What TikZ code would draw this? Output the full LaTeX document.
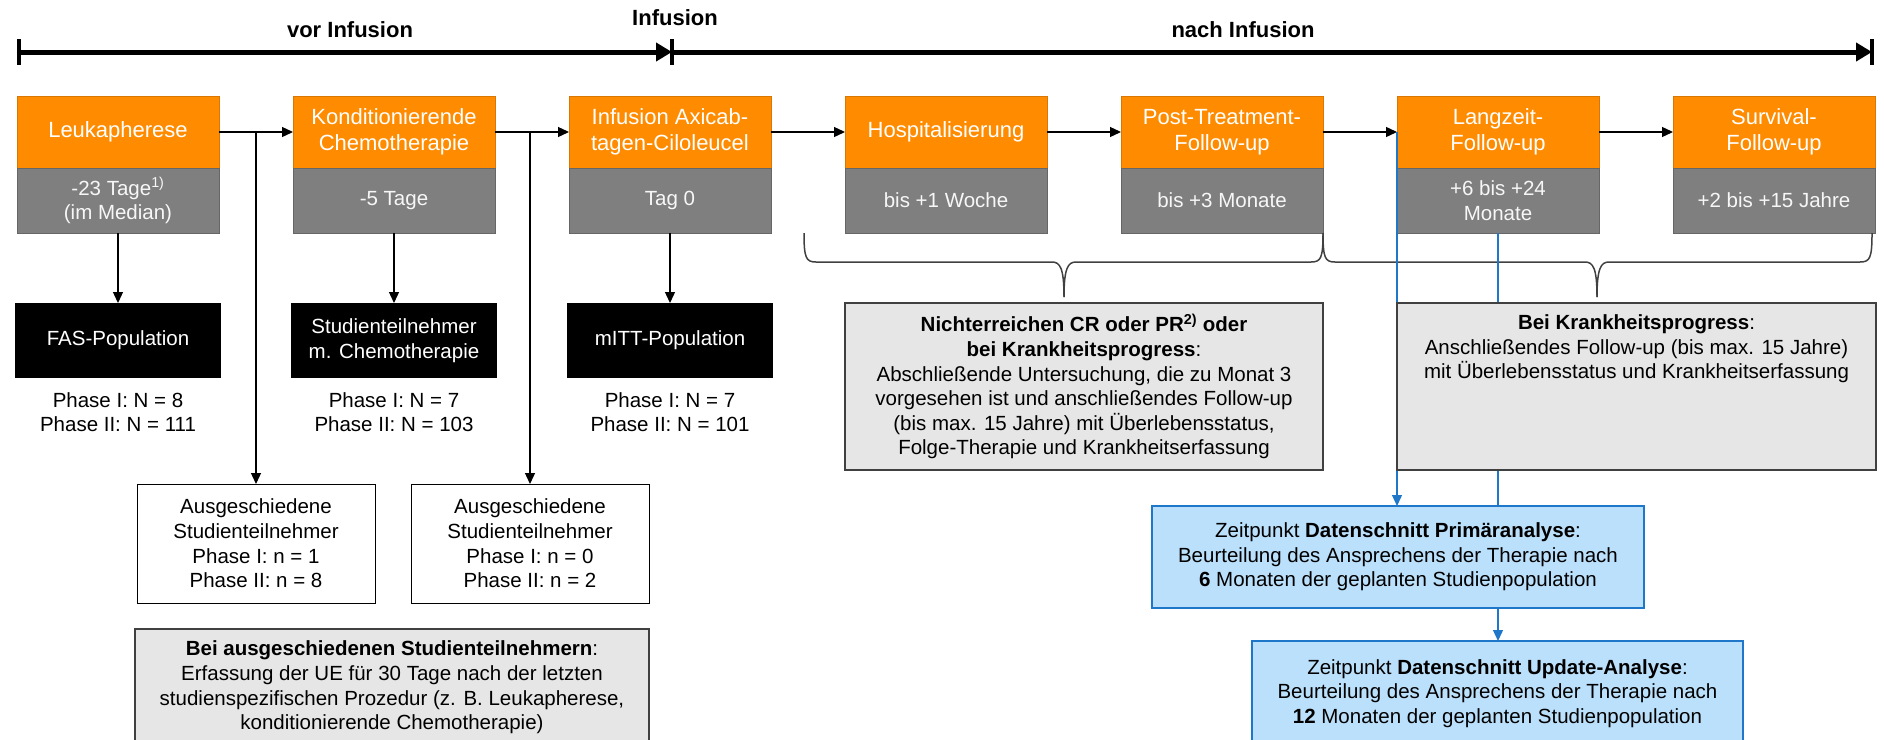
\documentclass[tikz,border=0pt]{standalone}
\usepackage{fontspec}
\setmainfont{Liberation Sans}
\usetikzlibrary{arrows.meta}
\definecolor{orng}{RGB}{255,140,0}
\definecolor{gry}{RGB}{127,127,127}
\definecolor{lgry}{RGB}{230,230,230}
\definecolor{lblue}{RGB}{187,224,251}
\definecolor{bcol}{RGB}{31,119,201}
\definecolor{dgry}{RGB}{64,64,64}
\begin{document}
\begin{tikzpicture}[x=1pt,y=-1pt,
 every node/.style={inner sep=0pt, outer sep=0pt, align=center, font=\fontsize{20.5}{24.6}\selectfont},
 obox/.style={anchor=north west, fill=orng, draw=orng!85!black, line width=0.8pt, minimum width=202pt, minimum height=72pt, text=white, font=\fontsize{22}{26.5}\selectfont},
 gbox/.style={anchor=north west, fill=gry, draw=gry!80!black, line width=0.8pt, minimum width=202pt, minimum height=65pt, text=white!94!gray},
 bbox/.style={fill=black, minimum width=206pt, minimum height=75pt, text=white},
 wbox/.style={anchor=north west, draw=black, line width=1pt, fill=white, minimum width=238pt, minimum height=119pt},
 lgbox/.style={anchor=north west, draw=dgry, line width=1.2pt, fill=lgry},
 lbbox/.style={anchor=north west, draw=bcol, line width=1.2pt, fill=lblue},
 conn/.style={line width=1.3pt, -{Triangle[length=11pt,width=10pt]}},
 bconn/.style={draw=bcol, line width=1.3pt, -{Triangle[length=11pt,width=10pt]}},
 bseg/.style={draw=bcol, line width=1.3pt},
 tline/.style={line width=5pt, -{Triangle[length=16pt,width=18pt]}},
 tickmark/.style={line width=4pt},
 brc/.style={draw=dgry, line width=1.5pt},
 tlabel/.style={font=\bfseries\fontsize{22}{26.5}\selectfont},
 ptext/.style={font=\fontsize{20.5}{23.5}\selectfont},
]
\useasboundingbox (0,0) rectangle (1884,739);

% timeline
\coordinate (t0) at (19,52);
\coordinate (t1) at (672,52);
\coordinate (t2) at (1872,52);
\draw[tline] (t0) -- (t1);
\draw[tline] (t1) -- (t2);
\draw[tickmark] (t0) ++(0,-13) -- ++(0,26);
\draw[tickmark] (t1) ++(0,-13) -- ++(0,26);
\draw[tickmark] (t2) ++(0,-13) -- ++(0,26);
\node[tlabel] (lvor) at (350,30) {vor Infusion};
\node[tlabel] (linf) at (675,18) {Infusion};
\node[tlabel] (lnach) at (1243,30) {nach Infusion};

% phase boxes
\node[obox] (o0) at (17,96) {Leukapherese};
\node[obox] (o1) at (293,96) {Konditionierende\\Chemotherapie};
\node[obox] (o2) at (569,96) {Infusion Axicab-\\tagen-Ciloleucel};
\node[obox] (o3) at (845,96) {Hospitalisierung};
\node[obox] (o4) at (1121,96) {Post-Treatment-\\Follow-up};
\node[obox] (o5) at (1397,96) {Langzeit-\\Follow-up};
\node[obox] (o6) at (1673,96) {Survival-\\Follow-up};

\node[gbox] (g0) at (17,168) {-23 Tage\textsuperscript{1)}\\(im Median)};
\node[gbox] (g1) at (293,168) {-5 Tage};
\node[gbox] (g2) at (569,168) {Tag 0};
\node[gbox] (g3) at (845,168) {bis +1 Woche};
\node[gbox] (g4) at (1121,168) {bis +3 Monate};
\node[gbox] (g5) at (1397,168) {+6 bis +24\\Monate};
\node[gbox] (g6) at (1673,168) {+2 bis +15 Jahre};

\draw[conn] (o0.east) -- (o1.west);
\draw[conn] (o1.east) -- (o2.west);
\draw[conn] (o2.east) -- (o3.west);
\draw[conn] (o3.east) -- (o4.west);
\draw[conn] (o4.east) -- (o5.west);
\draw[conn] (o5.east) -- (o6.west);

% populations
\node[bbox] (f0) at (118,340.5) {FAS-Population};
\node[bbox] (f1) at (394,340.5) {Studienteilnehmer\\m. Chemotherapie};
\node[bbox] (f2) at (670,340.5) {mITT-Population};
\draw[conn] (g0.south) -- (f0.north);
\draw[conn] (g1.south) -- (f1.north);
\draw[conn] (g2.south) -- (f2.north);

\node[ptext] (p0) at (118,412) {Phase I: N = 8\\Phase II: N = 111};
\node[ptext] (p1) at (394,412) {Phase I: N = 7\\Phase II: N = 103};
\node[ptext] (p2) at (670,412) {Phase I: N = 7\\Phase II: N = 101};

% dropouts
\node[wbox] (a1) at (137,484) {Ausgeschiedene\\Studienteilnehmer\\Phase I: n = 1\\Phase II: n = 8};
\node[wbox] (a2) at (411,484) {Ausgeschiedene\\Studienteilnehmer\\Phase I: n = 0\\Phase II: n = 2};
\coordinate (br1) at (a1.north |- o0.east);
\coordinate (br2) at (a2.north |- o1.east);
\draw[conn] (br1) -- (a1.north);
\draw[conn] (br2) -- (a2.north);

\node[lgbox, minimum width=514pt, minimum height=117pt] (ua) at (135,629) {\textbf{Bei ausgeschiedenen Studienteilnehmern}:\\Erfassung der UE für 30 Tage nach der letzten\\studienspezifischen Prozedur (z. B. Leukapherese,\\konditionierende Chemotherapie)};

% braces
\draw[brc] (804,233) .. controls (804,258) and (806,262) .. (816,262) -- (1052,262) .. controls (1060,262) and (1064,268) .. (1064,297);
\draw[brc] (1064,297) .. controls (1064,268) and (1068,262) .. (1076,262) -- (1311,262) .. controls (1321,262) and (1323,258) .. (1323,233);
\draw[brc] (1323,233) .. controls (1323,258) and (1325,262) .. (1335,262) -- (1585,262) .. controls (1593,262) and (1597,268) .. (1597,297);
\draw[brc] (1597,297) .. controls (1597,268) and (1601,262) .. (1609,262) -- (1860,262) .. controls (1870,262) and (1872,258) .. (1872,233);

\node[lgbox, minimum width=478pt, minimum height=167pt] (nr) at (845,303) {\textbf{Nichterreichen CR oder PR\textsuperscript{2)} oder}\\\textbf{bei Krankheitsprogress}:\\Abschließende Untersuchung, die zu Monat 3\\vorgesehen ist und anschließendes Follow-up\\(bis max. 15 Jahre) mit Überlebensstatus,\\Folge-Therapie und Krankheitserfassung};

% analyses
\node[lbbox, minimum width=492pt, minimum height=102pt] (prim) at (1152,506) {Zeitpunkt \textbf{Datenschnitt Primäranalyse}:\\Beurteilung des Ansprechens der Therapie nach\\\textbf{6} Monaten der geplanten Studienpopulation};
\node[lbbox, minimum width=491pt, minimum height=105pt] (upd) at (1252,641) {Zeitpunkt \textbf{Datenschnitt Update-Analyse}:\\Beurteilung des Ansprechens der Therapie nach\\\textbf{12} Monaten der geplanten Studienpopulation};

\draw[bconn] (o5.west) -- (o5.west |- prim.north);
\draw[bseg] (g5.south) -- (g5.south |- prim.north);
\draw[bconn] (g5.south |- prim.south) -- (g5.south |- upd.north);

\node[lgbox, minimum width=479pt, minimum height=167pt] (kr) at (1397,303) {};
\node (krt) at (1636.5,349) {\textbf{Bei Krankheitsprogress}:\\Anschließendes Follow-up (bis max. 15 Jahre)\\mit Überlebensstatus und Krankheitserfassung};
\end{tikzpicture}
\end{document}
